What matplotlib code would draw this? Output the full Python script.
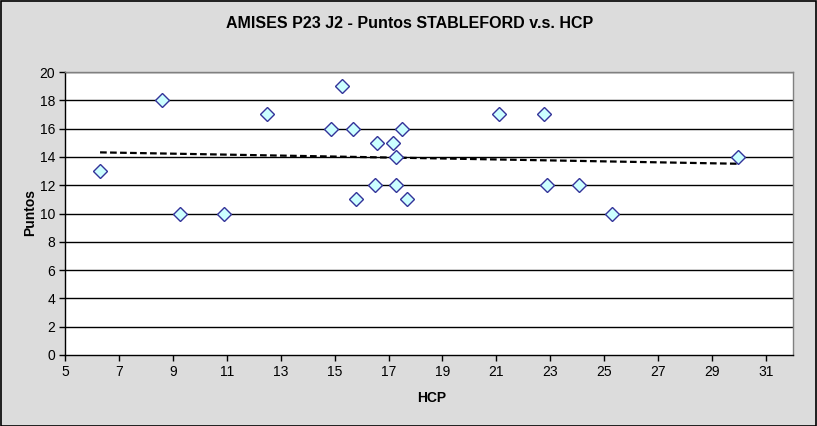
import numpy as np
import matplotlib
matplotlib.use("Agg")
import matplotlib.pyplot as plt
from matplotlib.patches import Rectangle

hcp = [6.3, 8.6, 9.27, 10.9, 12.48, 14.85, 15.28, 15.68, 15.79, 16.49, 16.57,
       17.16, 17.27, 17.27, 17.49, 17.68, 21.08, 22.75, 22.86, 24.05, 25.27, 29.96]
puntos = [13, 18, 10, 10, 17, 16, 19, 16, 11, 12, 15,
          15, 12, 14, 16, 11, 17, 17, 12, 12, 10, 14]
x_ticks = [5, 7, 9, 11, 13, 15, 17, 19, 21, 23, 25, 27, 29, 31]
y_ticks = [0, 2, 4, 6, 8, 10, 12, 14, 16, 18, 20]
title = "AMISES P23 J2 - Puntos STABLEFORD v.s. HCP"

plt.rcParams['font.family'] = ['Liberation Sans', 'DejaVu Sans']

W, H = 817, 426
fig = plt.figure(figsize=(W / 100, H / 100), dpi=100)
fig.patch.set_facecolor('#DCDCDC')
fig.patches.append(Rectangle((0.5 / W, 0.5 / H), 1 - 1.5 / W, 1 - 1.5 / H, transform=fig.transFigure,
                             fill=False, edgecolor='black', linewidth=1.2))

left, right, top, bottom = 65, 793, 72, 355
ax = fig.add_axes([left / W, 1 - bottom / H, (right - left) / W, (bottom - top) / H])
ax.set_facecolor('white')
ax.set_xlim(5, 32)
ax.set_ylim(0, 20)
ax.set_xticks(x_ticks)
ax.set_yticks(y_ticks)
ax.tick_params(axis='both', direction='out', length=4, width=1, labelsize=10, colors='black', pad=3)
for y in y_ticks[1:]:
    ax.axhline(y, color='black', linewidth=1, zorder=1)
ax.spines['left'].set_color('black')
ax.spines['bottom'].set_color('black')
ax.spines['top'].set_color('#808080')
ax.spines['right'].set_color('#808080')
for s in ax.spines.values():
    s.set_linewidth(1)

xa = np.array(hcp)
ya = np.array(puntos)
m, b = np.polyfit(xa, ya, 1)
xl = np.array([xa.min(), xa.max()])
ax.plot(xl, m * xl + b, color='black', linestyle=(0, (3, 1.5)), linewidth=1.6, zorder=2)

ax.plot(hcp, puntos, linestyle='none', marker='D', markersize=7.5,
        markerfacecolor='#CCFFFF', markeredgecolor='#333399', markeredgewidth=1, zorder=3)

fig.text(410 / W, 1 - 24 / H, title, ha='center', va='center', fontsize=11.5, fontweight='bold')
fig.text(30 / W, 1 - 213 / H, "Puntos", ha='center', va='center', rotation=90, fontsize=10, fontweight='bold')
fig.text(432 / W, 1 - 398 / H, "HCP", ha='center', va='center', fontsize=10, fontweight='bold')

fig.savefig("out.png", dpi=100, facecolor=fig.get_facecolor())
